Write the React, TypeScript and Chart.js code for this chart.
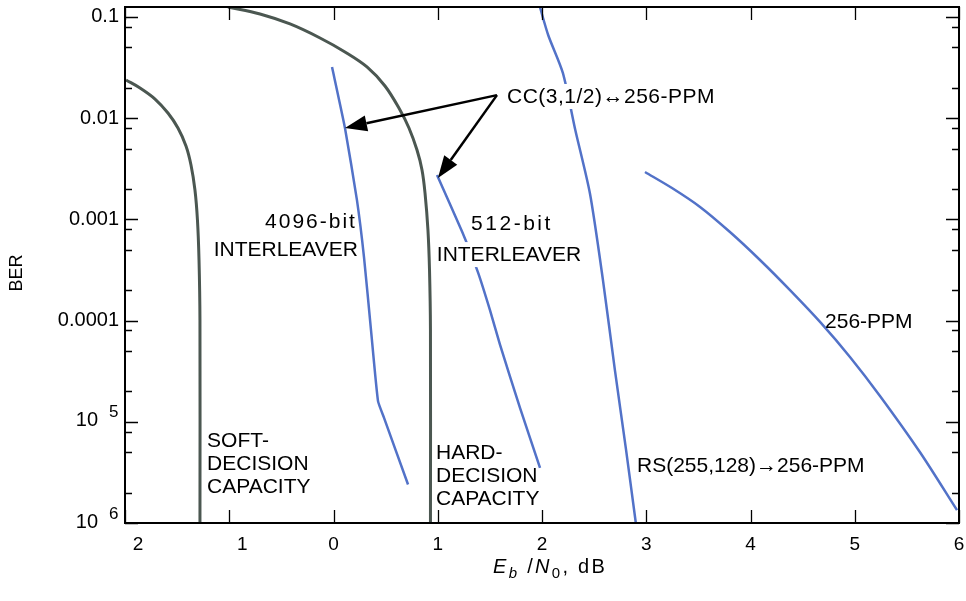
import { useEffect, useRef } from "react";
import { Chart, registerables } from "chart.js";

Chart.register(...registerables);

// ---- data (x = Eb/N0 in dB, y = BER) ----
const softCapX = [-1.99, -1.856, -1.712, -1.588, -1.492, -1.415, -1.367, -1.329, -1.305, -1.29, -1.281, -1.281];
const softCapY = [0.02384, 0.01988, 0.01547, 0.01125, 0.008, 0.00531, 0.00345, 0.00195, 0.000987, 0.000397, 0.000101, 0.000001];

const hardCapX = [-1.012, -0.705, -0.417, -0.129, 0.11, 0.321, 0.494, 0.638, 0.724, 0.801, 0.849, 0.878, 0.906, 0.921, 0.93, 0.93];
const hardCapY = [0.1255, 0.1071, 0.0853, 0.062, 0.0451, 0.0321, 0.0208, 0.01205, 0.008, 0.00485, 0.00308, 0.00182, 0.000786, 0.000316, 0.0000807, 0.000001];

const cc4096X = [-0.014, 0.11, 0.225, 0.293, 0.36, 0.427, 0.484, 0.715];
const cc4096Y = [0.032, 0.008, 0.00155, 0.00042, 0.00008, 0.000016, 0.000011, 0.0000024];

const cc512X = [0.993, 1.233, 1.386, 1.501, 1.597, 1.789, 1.981];
const cc512Y = [0.00275, 0.00076, 0.0003, 0.000127, 0.000058, 0.0000137, 0.0000035];

const rsX = [1.98, 2.06, 2.2, 2.32, 2.46, 2.585, 2.7, 2.806, 2.9];
const rsY = [0.1255, 0.066, 0.028, 0.0076, 0.0018, 0.00025, 0.000032, 0.0000053, 0.000001];

const ppmX = [2.988, 3.247, 3.516, 3.803, 4.091, 4.379, 4.667, 4.954, 5.242, 5.626, 5.981];
const ppmY = [0.00294, 0.00204, 0.001327, 0.00075, 0.000397, 0.0002, 0.000097, 0.0000437, 0.000018, 0.000005, 0.00000134];

// ---- axes ----
const xTickValues = [-2, -1, 0, 1, 2, 3, 4, 5, 6];
const xTickLabels = ["2", "1", "0", "1", "2", "3", "4", "5", "6"];
const yTickValues = [1e-1, 1e-2, 1e-3, 1e-4, 1e-5, 1e-6];
const yTickBase = ["0.1", "0.01", "0.001", "0.0001", "10", "10"];
const yTickExp = ["", "", "", "", "5", "6"];
const yMinorFactors = [0.8, 0.5, 0.2];

// ---- annotations (data coords) ----
const noteTexts = [
  "4096-bit", "INTERLEAVER", "512-bit", "INTERLEAVER",
  "SOFT-", "DECISION", "CAPACITY",
  "HARD-", "DECISION", "CAPACITY",
  "RS(255,128)\u2192256-PPM", "256-PPM", "CC(3,1/2)\u2194256-PPM",
];
const noteX = [0.225, 0.235, 1.712, 1.683, -1.213, -1.213, -1.213, 0.983, 0.983, 0.983, 2.911, 4.715, 1.664];
const noteY = [9.4e-4, 5.0e-4, 9.0e-4, 4.44e-4, 6.5e-6, 3.83e-6, 2.27e-6, 4.92e-6, 2.91e-6, 1.73e-6, 3.66e-6, 9.7e-5, 0.0162];
const noteAlign = ["right", "right", "center", "center", "left", "left", "left", "left", "left", "left", "left", "left", "left"];
const noteSpacing = [2, 0, 2.5, 0, 0, 0, 0, 0, 0, 0, 0, 0, 0.5];
const noteOpaque = [false, false, true, true, false, false, false, false, false, false, false, false, true];

const arrowFrom = { x: 1.568, y: 0.0169 };
const arrowTipX = [0.11, 1.002];
const arrowTipY = [0.008, 0.00257];

const FONT = '"Liberation Sans", Arial, Helvetica, sans-serif';
const GRAY = "#4b5751";
const BLUE = "#5272c8";

const zip = (xs: number[], ys: number[]) => xs.map((x, i) => ({ x, y: ys[i] }));

const framePlugin = {
  id: "frameAndText",
  afterDraw(chart: any) {
    const ctx = chart.ctx as CanvasRenderingContext2D;
    const { left, right, top, bottom } = chart.chartArea;
    const xs = chart.scales.x;
    const ys = chart.scales.y;
    ctx.save();
    ctx.strokeStyle = "#000";
    ctx.fillStyle = "#000";

    // annotations
    ctx.textBaseline = "middle";
    noteTexts.forEach((t, i) => {
      ctx.font = `21px ${FONT}`;
      (ctx as any).letterSpacing = `${noteSpacing[i]}px`;
      ctx.textAlign = noteAlign[i] as CanvasTextAlign;
      const px = xs.getPixelForValue(noteX[i]);
      const py = ys.getPixelForValue(noteY[i]);
      if (noteOpaque[i]) {
        const w = ctx.measureText(t).width;
        const x0 = noteAlign[i] === "left" ? px : noteAlign[i] === "right" ? px - w : px - w / 2;
        ctx.fillStyle = "#fff";
        ctx.fillRect(x0 - 2, py - 13, w + 4, 25);
        ctx.fillStyle = "#000";
      }
      ctx.fillText(t, px, py);
    });
    (ctx as any).letterSpacing = "0px";

    // arrows
    const fx = xs.getPixelForValue(arrowFrom.x);
    const fy = ys.getPixelForValue(arrowFrom.y);
    ctx.lineWidth = 2.5;
    arrowTipX.forEach((ax, i) => {
      const tx2 = xs.getPixelForValue(ax);
      const ty2 = ys.getPixelForValue(arrowTipY[i]);
      const ang = Math.atan2(ty2 - fy, tx2 - fx);
      const hl = 22;
      const hw = 8;
      const bx = tx2 - hl * Math.cos(ang);
      const by = ty2 - hl * Math.sin(ang);
      ctx.beginPath();
      ctx.moveTo(fx, fy);
      ctx.lineTo(bx, by);
      ctx.stroke();
      ctx.beginPath();
      ctx.moveTo(tx2, ty2);
      ctx.lineTo(bx + hw * Math.sin(ang), by - hw * Math.cos(ang));
      ctx.lineTo(bx - hw * Math.sin(ang), by + hw * Math.cos(ang));
      ctx.closePath();
      ctx.fill();
    });

    // frame
    ctx.lineWidth = 2;
    ctx.strokeRect(left, top, right - left, bottom - top);

    // x ticks (inward, top and bottom)
    ctx.lineWidth = 1.3;
    ctx.beginPath();
    xTickValues.forEach((v) => {
      const px = Math.round(xs.getPixelForValue(v)) + 0.5;
      ctx.moveTo(px, bottom);
      ctx.lineTo(px, bottom - 13);
      ctx.moveTo(px, top);
      ctx.lineTo(px, top + 13);
    });
    // y ticks (major + minor), left and right
    yTickValues.forEach((v) => {
      const py = Math.round(ys.getPixelForValue(v)) + 0.5;
      ctx.moveTo(left, py);
      ctx.lineTo(left + 13, py);
      ctx.moveTo(right, py);
      ctx.lineTo(right - 13, py);
      if (v > 1e-6) {
        yMinorFactors.forEach((f) => {
          const pm = Math.round(ys.getPixelForValue(v * f)) + 0.5;
          ctx.moveTo(left, pm);
          ctx.lineTo(left + 7, pm);
          ctx.moveTo(right, pm);
          ctx.lineTo(right - 7, pm);
        });
      }
    });
    ctx.stroke();

    // x tick labels
    ctx.font = `19px ${FONT}`;
    ctx.textAlign = "center";
    ctx.textBaseline = "middle";
    xTickValues.forEach((v, i) => {
      const px = xs.getPixelForValue(v) + (v < 0 ? 13 : 0);
      ctx.fillText(xTickLabels[i], px, bottom + 22);
    });

    // y tick labels
    yTickValues.forEach((v, i) => {
      const py = ys.getPixelForValue(v);
      if (yTickExp[i]) {
        ctx.font = `20px ${FONT}`;
        ctx.textAlign = "right";
        ctx.fillText(yTickBase[i], left - 27, py - 1);
        ctx.font = `17px ${FONT}`;
        ctx.textAlign = "left";
        ctx.fillText(yTickExp[i], left - 16, py - 9);
      } else {
        ctx.font = `20px ${FONT}`;
        ctx.textAlign = "right";
        ctx.fillText(yTickBase[i], left - 6, py);
      }
    });

    // y title
    ctx.save();
    ctx.translate(17, (top + bottom) / 2 + 8);
    ctx.rotate(-Math.PI / 2);
    ctx.font = `18px ${FONT}`;
    ctx.textAlign = "center";
    ctx.fillText("BER", 0, 0);
    ctx.restore();

    // x title: E_b / N_0, dB
    ctx.textAlign = "left";
    ctx.textBaseline = "alphabetic";
    (ctx as any).letterSpacing = "2.3px";
    let tx = 493;
    const ty = bottom + 50;
    const parts: [string, string, number, number][] = [
      ["E", "italic", 20, 0],
      ["b", "italic", 15, 5],
      [" /", "normal", 20, 0],
      ["N", "italic", 20, 0],
      ["0", "normal", 15, 5],
      [", dB", "normal", 20, 0],
    ];
    parts.forEach(([t, st, sz, dy]) => {
      ctx.font = `${st} ${sz}px ${FONT}`;
      ctx.fillText(t, tx, ty + dy);
      tx += ctx.measureText(t).width;
    });
    (ctx as any).letterSpacing = "0px";
    ctx.restore();
  },
};

export default function App() {
  const ref = useRef<HTMLCanvasElement | null>(null);
  useEffect(() => {
    if (!ref.current) return;
    const mk = (data: { x: number; y: number }[], color: string, w: number, t: number) => ({
      data,
      borderColor: color,
      borderWidth: w,
      pointRadius: 0,
      tension: t,
      fill: false,
    });
    const chart = new Chart(ref.current, {
      type: "line",
      data: {
        datasets: [
          mk(zip(softCapX, softCapY), GRAY, 3, 0.35),
          mk(zip(hardCapX, hardCapY), GRAY, 3, 0.35),
          mk(zip(cc4096X, cc4096Y), BLUE, 2.5, 0.15),
          mk(zip(cc512X, cc512Y), BLUE, 2.5, 0.15),
          mk(zip(rsX, rsY), BLUE, 2.5, 0.25),
          mk(zip(ppmX, ppmY), BLUE, 2.5, 0.3),
        ] as any,
      },
      options: {
        animation: false,
        responsive: false,
        events: [],
        layout: { padding: { left: 125, top: 7, right: 7, bottom: 78 } },
        scales: {
          x: { type: "linear", min: -2, max: 6, display: false },
          y: { type: "logarithmic", min: 1e-6, max: 0.1255, display: false },
        },
        plugins: { legend: { display: false }, tooltip: { enabled: false } },
      },
      plugins: [framePlugin],
    });
    return () => chart.destroy();
  }, []);
  return (
    <div style={{ position: "absolute", left: 0, top: 0, width: 966, height: 601, background: "#fff" }}>
      <canvas ref={ref} width={966} height={601} style={{ display: "block" }} />
    </div>
  );
}
